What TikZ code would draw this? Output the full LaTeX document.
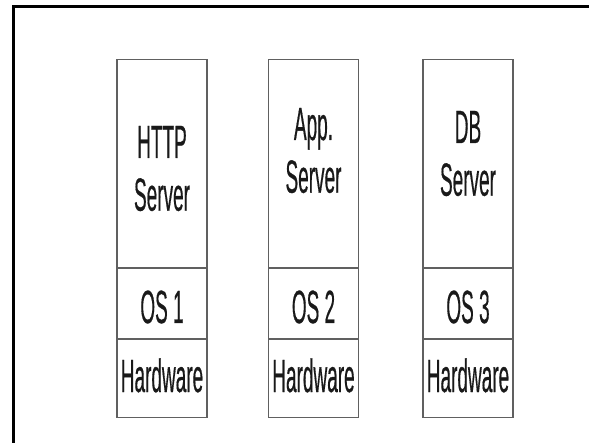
\documentclass[tikz,border=0pt]{standalone}
\usepackage{fontspec}
\usepackage{graphicx}
\setmainfont{Liberation Sans}
\newfontfamily\layerfont{Liberation Sans}[UprightFeatures={FakeBold=0.7}]
\usetikzlibrary{positioning}

\newcommand{\tall}[1]{\scalebox{1}[2.45]{\begin{tabular}[t]{@{}c@{}}#1\end{tabular}}}

\begin{document}
\begin{tikzpicture}[x=1pt,y=-1pt,
    layer/.style={draw=gray!75!black, line width=1.2pt, minimum width=90pt, inner sep=0pt},
    lbl/.style={anchor=base, inner sep=0pt, text=black!90, font=\layerfont\fontsize{19}{21.5}\selectfont}]
  \useasboundingbox (0,0) rectangle (589,443);
  \draw[line width=3.5pt] (13.5,443) -- (13.5,6.5) -- (589,6.5);

  \node[layer, minimum height=208pt, anchor=north] (srv1) at (162,58.6) {};
  \node[layer, minimum height=70pt] (os1) [below=0pt of srv1] {};
  \node[layer, minimum height=78pt] (hw1) [below=0pt of os1] {};

  \node[layer, minimum height=208pt, anchor=north] (srv2) at (313.5,58.6) {};
  \node[layer, minimum height=70pt] (os2) [below=0pt of srv2] {};
  \node[layer, minimum height=78pt] (hw2) [below=0pt of os2] {};

  \node[layer, minimum height=208pt, anchor=north] (srv3) at (468,58.6) {};
  \node[layer, minimum height=70pt] (os3) [below=0pt of srv3] {};
  \node[layer, minimum height=78pt] (hw3) [below=0pt of os3] {};

  \node[lbl] (srv1t) at (162,158) {\tall{HTTP\\Server}};
  \node[lbl] (srv2t) at (313.5,140) {\tall{App.\\Server}};
  \node[lbl] (srv3t) at (468,143) {\tall{DB\\Server}};

  \node[lbl] (os1t) at (162,323) {\tall{OS 1}};
  \node[lbl] (os2t) at (313.5,323) {\tall{OS 2}};
  \node[lbl] (os3t) at (468,323) {\tall{OS 3}};

  \node[lbl] (hw1t) at (162,392) {\tall{Hardware}};
  \node[lbl] (hw2t) at (313.5,392) {\tall{Hardware}};
  \node[lbl] (hw3t) at (468,392) {\tall{Hardware}};
\end{tikzpicture}
\end{document}
